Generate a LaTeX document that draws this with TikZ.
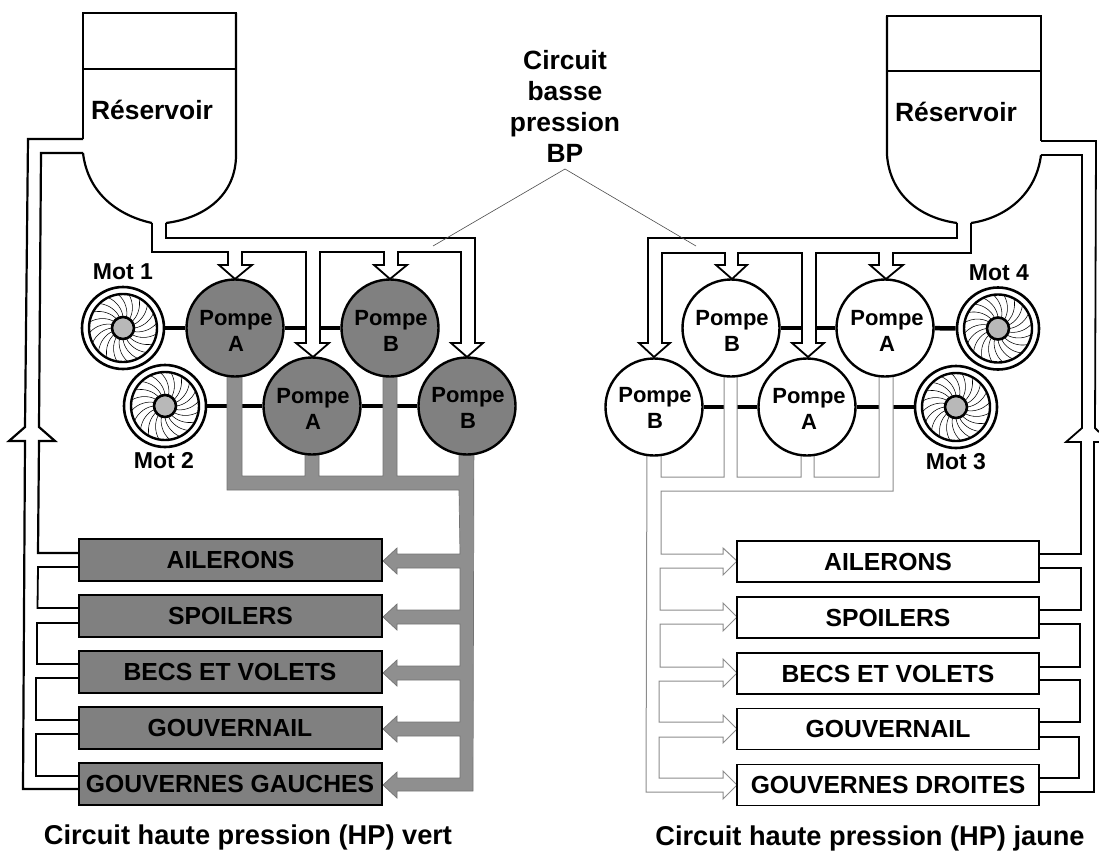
\documentclass[tikz,border=0pt]{standalone}
\usepackage{fontspec}
\setmainfont{Liberation Sans}
\usetikzlibrary{backgrounds}
\definecolor{fillgrey}{gray}{0.50}
\definecolor{pipegrey}{gray}{0.56}
\definecolor{hubgrey}{gray}{0.72}
\definecolor{thinline}{gray}{0.55}
\tikzset{
  outline/.style={draw=black,line width=2.2pt,line join=miter},
  hp/.style={draw=black,line width=1.8pt,line join=miter},
  greypipe/.style={draw=black!55,line width=.7pt,fill=pipegrey},
  lightpipe/.style={draw=thinline,line width=1pt,fill=white,line join=miter},
  bppipe/.style={draw=black,line width=1.8pt,fill=white,line join=miter},
  shaft/.style={draw=black,line width=4.5pt},
  thinshaft/.style={draw=black,line width=3.5pt},
  leader/.style={draw=black!70,line width=.6pt},
  pumpG/.style={circle,draw=black,line width=2.4pt,fill=fillgrey,minimum size=97pt,inner sep=0pt},
  pumpW/.style={circle,draw=black,line width=2.4pt,fill=white,minimum size=97pt,inner sep=0pt},
  pumptext/.style={align=center,font=\fontsize{22}{26}\selectfont\bfseries,inner sep=0pt},
  motor/.style={circle,draw=black,line width=2.6pt,fill=white,minimum size=82pt,inner sep=0pt},
  motorlabel/.style={font=\fontsize{23}{26}\selectfont\bfseries,inner sep=0pt},
  boxG/.style={rectangle,draw=black,line width=2pt,fill=fillgrey,minimum width=303pt,minimum height=42pt,inner sep=0pt,font=\fontsize{24.7}{26}\selectfont\bfseries},
  boxW/.style={rectangle,draw=black,line width=1.8pt,fill=white,minimum width=302pt,minimum height=41pt,inner sep=0pt,font=\fontsize{24.7}{26}\selectfont\bfseries},
  bigtext/.style={font=\fontsize{26.4}{31}\selectfont\bfseries,inner sep=0pt},
  captext/.style={font=\fontsize{27.2}{31}\selectfont\bfseries,inner sep=0pt},
}
\newcommand{\turbine}[1]{%
  \begin{scope}[shift={(#1.center)}]
    \draw[line width=2.4pt] (0,0) circle (34);
    \foreach \a in {0,18,...,342}{
      \draw[line width=.55pt] (\a:11) .. controls (\a-2:18) and (\a-12:27) .. (\a-26:34);
    }
    \draw[line width=2.6pt,fill=hubgrey] (0,0) circle (11);
  \end{scope}}
\begin{document}
\begin{tikzpicture}[x=1pt,y=-1pt]
\useasboundingbox (0,0) rectangle (1099,854);

\node[pumpG] (pa1) at (235,328) {};
\node[pumpG] (pb1) at (390,328) {};
\node[pumpG] (pa2) at (312,406) {};
\node[pumpG] (pb2) at (467,406) {};
\node[pumpW] (qb1) at (731,328) {};
\node[pumpW] (qa1) at (885,328) {};
\node[pumpW] (qb2) at (654,407) {};
\node[pumpW] (qa2) at (807,407) {};
\node[motor] (mot1) at (123,328) {};
\node[motor] (mot2) at (165,406) {};
\node[motor] (mot4) at (998,328.5) {};
\node[motor] (mot3) at (956,407) {};
\turbine{mot1}
\turbine{mot2}
\turbine{mot3}
\turbine{mot4}

\begin{scope}[on background layer]
% ---- shafts (behind the pipes)
\draw[shaft] (mot1) -- (pa1);
\draw[shaft] (pa1) -- (pb1);
\draw[shaft] (mot2) -- (pa2);
\draw[thinshaft] (pa2) -- (pb2);
\draw[shaft] (qb1) -- (qa1);
\draw[shaft] (qa1) -- (mot4);
\draw[thinshaft] (qb2) -- (qa2);
\draw[shaft] (qa2) -- (mot3);

% ---- left low pressure pipe
\draw[bppipe] (152,223) -- (152,252) -- (228,252) -- (228,265) -- (219,265) -- (235,279) -- (252,265) -- (242,265) -- (242,252)
  -- (306,252) -- (306,343) -- (296,343) -- (313,357) -- (329,343) -- (320,343) -- (320,252)
  -- (384,252) -- (384,265) -- (374,265) -- (390,279) -- (407,265) -- (398,265) -- (398,252)
  -- (461,252) -- (461,343) -- (451,343) -- (467,357) -- (483,343) -- (475,343) -- (475,238) -- (166,238) -- (166,223);
% ---- right low pressure pipe
\draw[bppipe] (957,223) -- (957,238) -- (648,238) -- (648,343) -- (639,343) -- (654,357) -- (670,343) -- (662,343) -- (662,253)
  -- (725,253) -- (725,265) -- (716,265) -- (732,279) -- (747,265) -- (738,265) -- (738,253)
  -- (802,253) -- (802,343) -- (792,343) -- (808,357) -- (824,343) -- (816,343) -- (816,253)
  -- (879,253) -- (879,265) -- (870,265) -- (886,279) -- (903,265) -- (893,265) -- (893,253)
  -- (971,253) -- (971,223);

% ---- left high pressure pipe (grey)
\draw[greypipe] (227,360) -- (227,490) -- (459,490)
  -- (460,554) -- (397,554) -- (397,548) -- (383,561) -- (397,574) -- (397,568) -- (460,568)
  -- (460,610) -- (397,610) -- (397,604) -- (383,617) -- (397,630) -- (397,624) -- (460,624)
  -- (460,666) -- (397,666) -- (397,660) -- (383,673) -- (397,686) -- (397,680) -- (460,680)
  -- (460,722) -- (397,722) -- (397,716) -- (383,729) -- (397,742) -- (397,736) -- (460,736)
  -- (460,778) -- (397,778) -- (397,772) -- (383,785) -- (397,798) -- (397,791) -- (473,791)
  -- (474,420) -- (459,420) -- (459,476) -- (397,476) -- (397,360) -- (383,360) -- (383,476)
  -- (319,476) -- (319,420) -- (305,420) -- (305,476) -- (242,476) -- (242,360) -- cycle;

% ---- right high pressure pipe (light)
\draw[lightpipe] (647,440) -- (646,792) -- (723,792) -- (723,799) -- (737,785) -- (723,771) -- (723,778) -- (659,778)
  -- (659,737) -- (723,737) -- (723,743) -- (737,729) -- (723,715) -- (723,722) -- (659,722)
  -- (659,681) -- (723,681) -- (723,687) -- (737,673) -- (723,659) -- (723,667) -- (660,667)
  -- (660,624) -- (723,624) -- (723,631) -- (737,617) -- (723,603) -- (723,610) -- (660,610)
  -- (660,568) -- (723,568) -- (723,575) -- (737,561) -- (723,548) -- (723,554) -- (661,554)
  -- (661,491) -- (893,491) -- (893,370) -- (879,370) -- (879,477) -- (814,477) -- (814,440) -- (801,440)
  -- (801,477) -- (737,477) -- (737,370) -- (724,370) -- (724,477) -- (661,477) -- (661,440) -- cycle;
\end{scope}

\node[pumptext] (ta1) at (236,331) {Pompe\\A};
\node[pumptext] (tb1) at (391,331) {Pompe\\B};
\node[pumptext] (ta2) at (313,409) {Pompe\\A};
\node[pumptext] (tb2) at (468,408) {Pompe\\B};
\node[pumptext] (ua1) at (887,331) {Pompe\\A};
\node[pumptext] (ub1) at (732,331) {Pompe\\B};
\node[pumptext] (ua2) at (809,409) {Pompe\\A};
\node[pumptext] (ub2) at (655,408) {Pompe\\B};

\node[motorlabel] (lm1) at (123,272) {Mot 1};
\node[motorlabel] (lm2) at (164,461) {Mot 2};
\node[motorlabel] (lm3) at (956,462) {Mot 3};
\node[motorlabel] (lm4) at (999,273) {Mot 4};

% ---- left tank
\draw[outline] (83,13) rectangle (236,69);
\draw[outline] (83,13) -- (83,139);
\draw[outline] (236,13) -- (236,155) .. controls (236,195) and (205,218) .. (166,223);
\draw[outline] (83,153) .. controls (88,195) and (120,216) .. (152,223);
\node[bigtext] (res1) at (152,110) {Réservoir};
% ---- right tank
\draw[outline] (887,16) rectangle (1041,71);
\draw[outline] (887,16) -- (887,155) .. controls (890,195) and (920,218) .. (957,223);
\draw[outline] (1041,16) -- (1041,141);
\draw[outline] (1041,155) .. controls (1036,195) and (1005,218) .. (971,223);
\node[bigtext] (res2) at (956,112) {Réservoir};

% ---- boxes
\node[boxG] (ga) at (230.5,560) {AILERONS};
\node[boxG] (gb) at (230.5,616) {SPOILERS};
\node[boxG] (gc) at (230,672) {BECS ET VOLETS};
\node[boxG] (gd) at (230,728) {GOUVERNAIL};
\node[boxG] (ge) at (230,784) {GOUVERNES GAUCHES};
\node[boxW] (wa) at (888,561.5) {AILERONS};
\node[boxW] (wb) at (888,617.5) {SPOILERS};
\node[boxW] (wc) at (888,673.5) {BECS ET VOLETS};
\node[boxW] (wd) at (888,729) {GOUVERNAIL};
\node[boxW] (we) at (888,785) {GOUVERNES DROITES};

% ---- left returns
\draw[outline] (83,139) -- (28,139) -- (25,427) -- (9,441) -- (25,441) -- (23,789) -- (78,789);
\draw[outline] (83,153) -- (41,153) -- (39,427) -- (55,441) -- (39,441) -- (38,553) -- (79,553);
\draw[hp] (79,567) -- (38,567) -- (37.5,608) -- (79,608);
\draw[hp] (79,623) -- (37,623) -- (37,664) -- (79,664);
\draw[hp] (79,678) -- (36,678) -- (36,720) -- (78,720);
\draw[hp] (78,734) -- (36,734) -- (36,776) -- (78,776);
% ---- right returns
\draw[hp] (1041,141) -- (1096,141) -- (1095,428) -- (1099,432);
\draw[hp] (1099,442) -- (1094,442) -- (1094,792) -- (1039,792);
\draw[hp] (1041,155) -- (1082,155) -- (1082,428) -- (1066,442) -- (1081,442) -- (1081,554) -- (1039,554);
\draw[hp] (1039,568) -- (1081,568) -- (1081,610) -- (1039,610);
\draw[hp] (1039,624) -- (1080,624) -- (1080,667) -- (1039,667);
\draw[hp] (1039,680) -- (1080,680) -- (1080,722) -- (1039,722);
\draw[hp] (1039,737) -- (1079,737) -- (1079,778) -- (1039,778);

% ---- central label and leaders
\node[bigtext,align=center] (bp) at (565,106) {Circuit\\basse\\pression\\BP};
\coordinate (apex) at (565,169);
\coordinate (bpl) at (433,246);
\coordinate (bpr) at (696,246);
\draw[leader] (bpl) -- (apex) -- (bpr);

% ---- captions
\node[captext] (capl) at (248,837) {Circuit haute pression (HP) vert};
\node[captext] (capr) at (870,838) {Circuit haute pression (HP) jaune};
\end{tikzpicture}
\end{document}
